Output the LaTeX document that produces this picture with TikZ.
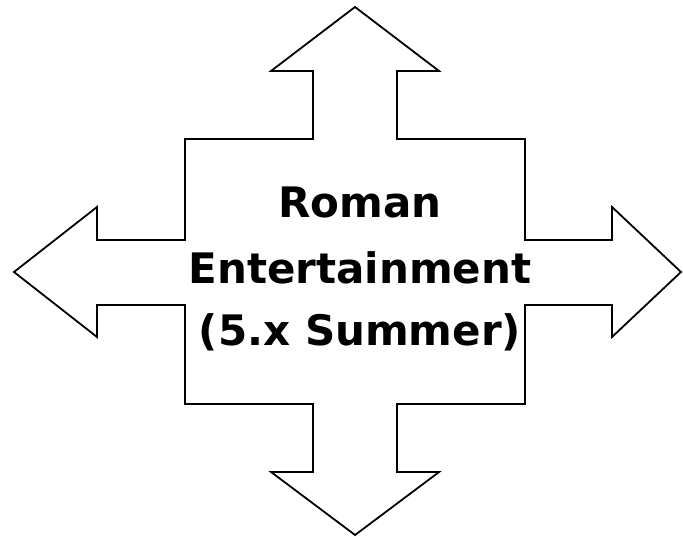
\documentclass[tikz,border=0pt]{standalone}
\usepackage{fontspec}
\setmainfont{DejaVu Sans}
\begin{document}
\begin{tikzpicture}[x=1pt,y=-1pt,
  shapeline/.style={draw=black,line width=1.8pt,line join=miter},
  title/.style={font=\fontsize{42}{64}\selectfont\bfseries,align=center,inner sep=0pt}]
\useasboundingbox (0,0) rectangle (683,537);
\draw[shapeline] (355,7) -- (439,71) -- (397,71) -- (397,139) -- (525,139)
  -- (525,240) -- (612,240) -- (612,207) -- (681,272) -- (612,337) -- (612,305)
  -- (525,305) -- (525,404) -- (397,404) -- (397,472) -- (439,472) -- (355,535)
  -- (271,472) -- (313,472) -- (313,404) -- (185,404) -- (185,305) -- (97,305)
  -- (97,337) -- (14,272) -- (97,207) -- (97,240) -- (185,240) -- (185,139)
  -- (313,139) -- (313,71) -- (271,71) -- cycle;
\node[title,anchor=base] (l1) at (360,218) {Roman};
\node[title,anchor=base] (l2) at (360,284) {Entertainment};
\node[title,anchor=base] (l3) at (360,346) {(5.x Summer)};
\end{tikzpicture}
\end{document}
